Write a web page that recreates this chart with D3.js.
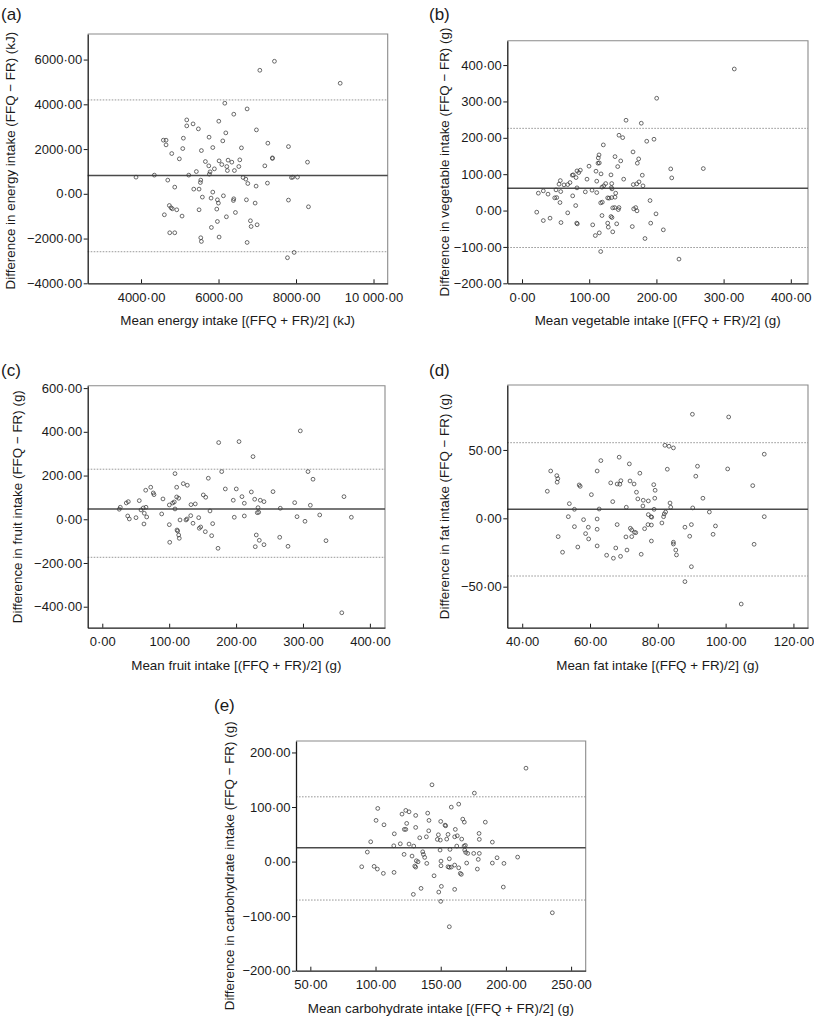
<!DOCTYPE html>
<html><head><meta charset="utf-8">
<script src="https://cdn.jsdelivr.net/npm/d3@7"></script>
<style>
body{margin:0;background:#fff}
text{font-family:"Liberation Sans",Arial,Helvetica,sans-serif;fill:#1a1a1a}
</style>
</head><body>
<svg id="chart" width="814" height="1019"></svg>
<script>
// ---------- DATA ----------
// (a) energy, kJ
const energyMean=[3871,4344,4690,4870,4576,4646,4646,4793,4989,5093,5077,5180,5180,5343,5480,5428,5232,5361,5498,5542,5532,5583,5558,5661,5749,5756,5852,5782,5764,5852,5808,5893,6007,6015,5971,5997,5955,5971,5816,5498,5059,4922,4808,4775,4731,4602,4741,4870,5542,5558,6015,7066,7443,9140,6162,6738,6394,6188,6110,6591,6978,7273,7805,8296,7391,7391,7195,6549,6524,6343,6247,6085,6214,6229,6410,6635,6704,6756,6970,7262,7882,7918,8037,6126,6394,6384,6720,6945,7805,8321,6436,6203,6823,6841,6996,6738,7779,7952];
const energyDiff=[745,835,612,299,2397,2397,2187,1799,1562,2486,2022,3303,3036,3125,2902,995,835,210,210,612,504,-147,1933,1442,1250,2531,2067,982,879,76,-192,1116,3245,1473,-268,-415,-683,-1237,-1504,-714,-995,-714,-670,-625,-522,-937,-1741,-1741,-1964,-2129,-1933,5522,5924,4942,4049,3794,3558,2723,2366,2053,2857,2263,2111,1415,1607,1580,1250,1518,1219,1415,1504,1308,1219,1040,1040,728,656,460,344,478,728,745,745,-89,-223,-299,-268,-415,-281,-580,-835,-1027,-1205,-1460,-1384,-2174,-2857,-2620];
const energyLines=[817,4196,-2589]; // bias, upper LoA, lower LoA
const energyXTicks=[4000,6000,8000,10000];
const energyXLabels=["4000·00","6000·00","8000·00","10 000·00"];
const energyYTicks=[-4000,-2000,0,2000,4000,6000];
const energyYLabels=["−4000·00","−2000·00","0·00","2000·00","4000·00","6000·00"];

// (b) vegetables, g
const vegMean=[21.9,24.3,31.7,38.7,31.7,41.7,48.7,51.6,50.6,55.1,57.0,57.6,56.5,58,62.5,68,71.4,74.8,76.3,80.4,81.8,84.4,86.8,81.8,75.4,79.9,68,81.4,82.3,96.7,99.7,94.2,104.2,111.2,110.1,113.5,113.1,115,114.6,117.6,121,111.2,105.2,109.1,115,117.1,119,119.5,119,121.6,124.5,127.5,128.4,132.4,133.9,133.5,132.9,133.9,135,137.9,117.1,127.5,129.5,133.5,135,132.4,315.9,200.4,154.8,177.5,144.3,149.8,185.6,196.4,165.2,138.4,146.9,173.6,171.6,142.4,221.3,269.8,222.8,179,151.3,165.6,170.7,174.1,180,139.4,138.4,190.5,144.3,143.3,166.2,169.2,171.1,199.4,140.9,164.1,191.5,210.3,183,233.6];
const vegDiff=[-4.4,47.8,54.1,45.1,-27.5,-20.9,34.9,35.7,56.9,72.5,82.4,52.2,22,-33,70.6,71.4,76.9,97.2,98.1,90.7,109,104.4,111,62.4,40.4,13.7,-6.3,-34.6,-36.5,86.3,122,51.4,56,80.8,108.2,144.8,130.2,131,153,100.8,180.5,49.4,-39.3,-68.7,-61.3,-112.6,-13.7,23.1,64.3,67.9,74.2,-34.6,-45.6,-16.5,-19.2,74.2,63.2,59.6,7.4,8.2,21.2,34.9,34.1,35.7,-58.5,98.1,389.2,308.8,248.3,240.1,207.1,200.5,190.6,196.1,161.2,148.3,136.5,142,130.2,120.9,114.5,115.4,89.8,97.2,86.3,71.4,73.3,78.8,67.9,47.8,36.8,27.5,8.2,2.7,4.7,8.2,-0.8,-9.1,-36.5,-44,-34.6,-53,-76.9,-133.5];
const vegLines=[61.5,226,-101.6];
const vegXTicks=[0,100,200,300,400];
const vegXLabels=["0·00","100·00","200·00","300·00","400·00"];
const vegYTicks=[-200,-100,0,100,200,300,400];
const vegYLabels=["−200·00","−100·00","0·00","100·00","200·00","300·00","400·00"];

// (c) fruit, g
const fruitMean=[25.4,26.9,35.9,38.9,38,40.4,50.4,55.3,57.9,61.3,62.8,65.3,66.4,62.3,64.9,72.4,76.2,77.3,90.7,88.8,100.2,100.2,100.8,105.2,107.6,108.7,111.2,111.2,114.2,111.7,112.7,114.2,115.1,116.2,108.7,121.1,127.1,132.6,132.2,126.6,125.1,135.6,139,144.1,145,147.1,151,154.6,154,158.5,161,165,163.5,173,174,204.4,296,225.3,178.5,183.9,200.3,195.8,208.8,212.3,222.8,227.8,236.2,241.7,232.8,233.8,255.2,266.1,287.6,307.5,315,311,361.3,197.3,212.3,231.7,291.1,303,325,372.3,230.2,234.7,228.7,241.7,265.2,277.6,334.4,358];
const fruitDiff=[45.8,55,74.6,80.6,15.1,1.4,7.3,85.2,42.6,51.7,27.5,55,10.5,-21.5,132.8,146.5,120.4,112.6,93,24.3,65.5,-24.7,-105.3,74.6,79.2,47.2,146.5,102.1,96.2,-49,-53.6,-71.9,-87,-3.2,208.8,163,155.7,66.9,16.5,1.4,-3.2,-18.3,70.1,7.3,-41.2,-35.3,111.3,100.7,-56.8,187.7,38,-20.1,-75.1,-132.8,350.8,355.3,404.3,286.6,218,138.7,138.7,87,103.5,73.3,125,91.6,87,80.6,53.1,32.1,126.4,50.4,76,218,183.2,64.1,103.5,9.2,15.1,30.2,11.9,-9.2,19.7,9.2,-71.9,-96.2,-125.5,-116.3,-82.4,-123.6,-98,-427.7];
const fruitLines=[47.2,229,-174];
const fruitXTicks=[0,100,200,300,400];
const fruitXLabels=["0·00","100·00","200·00","300·00","400·00"];
const fruitYTicks=[-400,-200,0,200,400,600];
const fruitYLabels=["−400·00","−200·00","0·00","200·00","400·00","600·00"];

// (d) fat, g
const fatMean=[90.2,100.9,82.1,83.3,84.6,111.4,68.6,71.6,82.8,91.7,100.6,74.7,91.2,69.1,68,68.8,71.8,73,78.8,79.2,73.7,74.1,75.7,77.2,79.1,93.3,108,70.7,75.6,78.9,83.6,83.8,82.3,81.9,81.7,81.2,90.3,95.2,111.4,77.2,78,78.2,77.1,78.1,68,76.1,71.9,72.3,73.1,73.5,70.6,72.3,97,96.3,88,89.9,89.4,78.1,84.6,84.6,85.3,85.5,70.9,69,75.1,108.4,89.9,88,104.6,47.4,48.4,50.2,50.5,50.3,50.6,51.9,53.9,53.6,55.4,55.4,56.4,56.8,57.1,58.1,58.7,59.5,59.6,60.4,62.1,62.1,62.1,62.1,62.7,63.2,64.9,66.1,66.7,66.9,67.6];
const fatDiff=[76.1,74.1,53.4,52.7,51.5,46.9,44.7,39.8,35.9,38.1,36.1,33,30.8,27.5,25.1,24.9,27.3,25.1,24.6,20.5,19.1,14.2,13.2,12.7,14.7,14.7,23.9,8.1,9,6.6,11.2,8.1,4.6,3.2,1.2,-3.4,7.6,4.6,1.2,2.7,1.2,0.8,-4.6,-4.9,-4.6,-7.6,-7.3,-8.5,-10.2,-10.5,-13.6,-13.4,-5.6,-11.7,-6.5,-4.6,-13.1,-16.6,-17.5,-18.8,-23.2,-26.8,-23.2,-27.8,-26.3,-19,-35.4,-46.3,-62.7,19.8,34.6,31.2,29,26.4,-13.4,-24.8,10.7,1.2,6.6,-6.1,-21,24.4,23.4,-1,-11.2,-6.5,-15.1,17.3,34.6,-0.5,-8,-20.2,6.8,42.2,-27,25.9,12.2,-29.2,-21.7];
const fatLines=[6.6,55.3,-42.2];
const fatXTicks=[40,60,80,100,120];
const fatXLabels=["40·00","60·00","80·00","100·00","120·00"];
const fatYTicks=[-50,0,50];
const fatYLabels=["−50·00","0·00","50·00"];

// (e) carbohydrate, g
const carbMean=[101.7,100.4,106.5,96.3,93.7,89.4,98.9,101.4,106,114.2,114.4,114,119,121.9,120.3,123.2,125.7,123.9,122.1,123.2,130.8,130.8,125.7,129.3,128,130.1,131.3,130.8,133.9,134.9,129,136.2,136.7,137.7,132.6,215.4,143.3,175.8,158.1,163.8,140,141,150,153.3,153.8,166.9,168.1,184.2,140.8,148.2,155.6,161.2,162.7,166.1,147.4,149.7,154.6,160.7,139,179.4,179.6,189.6,162.3,167.9,168.9,149.5,157.1,168.4,169.2,170.7,175.3,179.6,156.6,178.8,193.2,209,139.3,150.2,150.2,155.6,156.6,158.1,160.7,163.8,165,165.8,169.9,178.1,189.6,198.5,144.9,150.5,148.5,150,160.7,198,156.6,235.6];
const carbDiff=[97.4,75.5,67.4,36.3,17.4,-9.5,-8.8,-13.7,-21.6,-19.8,50.9,28.9,32.6,13.2,87,93.8,91.2,70,59,59,84.6,62.6,32.1,28.4,10.1,-8.2,1.5,-10.1,43.6,-49.1,-60.1,17.9,13.2,7.7,-0.4,171.2,140.7,125.5,99.8,105.3,88.8,75.5,73.6,66.8,65.6,77.8,72.3,72.3,56.4,49.1,49.8,59,47.3,41.2,40.7,39.4,41.2,45.4,45.4,51.6,40.7,35.7,28.4,28.4,29.7,21.1,22.3,21.1,16.8,15,15,15,5.1,4,7,8.2,-3.3,0.9,-7.7,-9.5,-10.6,-10.1,-6.4,-11.4,-21.6,-23.4,-2.7,-13.7,-2.7,-3.3,-26,-45.4,-55.9,-72.9,-50.9,-46.7,-119.4,-93.8];
const carbLines=[25.3,118.7,-70.5];
const carbXTicks=[50,100,150,200,250];
const carbXLabels=["50·00","100·00","150·00","200·00","250·00"];
const carbYTicks=[-200,-100,0,100,200];
const carbYLabels=["−200·00","−100·00","0·00","100·00","200·00"];

// ---------- LAYOUT ----------
const panels=[
 {label:"(a)",mean:energyMean,diff:energyDiff,lines:energyLines,xTicks:energyXTicks,xLabels:energyXLabels,yTicks:energyYTicks,yLabels:energyYLabels,
  xTitle:"Mean energy intake [(FFQ + FR)/2] (kJ)",yTitle:"Difference in energy intake (FFQ − FR) (kJ)",
  xDomain:[2624,10366],yDomain:[-4000,7143],box:{l:87.7,r:387.7,t:34,b:283.3},lab:[1,20],yTitleX:15,yTitleShift:2},
 {label:"(b)",mean:vegMean,diff:vegDiff,lines:vegLines,xTicks:vegXTicks,xLabels:vegXLabels,yTicks:vegYTicks,yLabels:vegYLabels,
  xTitle:"Mean vegetable intake [(FFQ + FR)/2] (g)",yTitle:"Difference in vegetable intake (FFQ − FR) (g)",
  xDomain:[-21.9,425.6],yDomain:[-200,467],box:{l:507.3,r:808,t:40.7,b:283.3},lab:[429,20],yTitleX:449,yTitleShift:0},
 {label:"(c)",mean:fruitMean,diff:fruitDiff,lines:fruitLines,xTicks:fruitXTicks,xLabels:fruitXLabels,yTicks:fruitYTicks,yLabels:fruitYLabels,
  xTitle:"Mean fruit intake [(FFQ + FR)/2] (g)",yTitle:"Difference in fruit intake (FFQ − FR) (g)",
  xDomain:[-21.8,422.6],yDomain:[-496,611],box:{l:87.7,r:385,t:385.7,b:627.7},lab:[1,376],yTitleX:22,yTitleShift:0},
 {label:"(d)",mean:fatMean,diff:fatDiff,lines:fatLines,xTicks:fatXTicks,xLabels:fatXLabels,yTicks:fatYTicks,yLabels:fatYLabels,
  xTitle:"Mean fat intake [(FFQ + FR)/2] (g)",yTitle:"Difference in fat intake (FFQ − FR) (g)",
  xDomain:[35.6,124.3],yDomain:[-80,97.5],box:{l:507.3,r:808,t:385,b:627.7},lab:[429,376],yTitleX:449,yTitleShift:0},
 {label:"(e)",mean:carbMean,diff:carbDiff,lines:carbLines,xTicks:carbXTicks,xLabels:carbXLabels,yTicks:carbYTicks,yLabels:carbYLabels,
  xTitle:"Mean carbohydrate intake [(FFQ + FR)/2] (g)",yTitle:"Difference in carbohydrate intake (FFQ − FR) (g)",
  xDomain:[39,261.2],yDomain:[-200,221],box:{l:296,r:585.7,t:741,b:970.7},lab:[214,711],yTitleX:234,yTitleShift:10}
];

const svg=d3.select("#chart");

function drawPanel(p){
  const B=p.box;
  const x=d3.scaleLinear().domain(p.xDomain).range([B.l,B.r]);
  const y=d3.scaleLinear().domain(p.yDomain).range([B.b,B.t]);
  const g=svg.append("g");

  // top & right frame
  g.append("path").attr("d",`M${B.l},${B.t}H${B.r}V${B.b}`)
    .attr("fill","none").attr("stroke","#8a8a8a").attr("stroke-width",1.1);

  // limits of agreement (dotted)
  [p.lines[1],p.lines[2]].forEach(v=>{
    g.append("line").attr("x1",B.l).attr("x2",B.r).attr("y1",y(v)).attr("y2",y(v))
      .attr("stroke","#8c8c8c").attr("stroke-width",0.9).attr("stroke-dasharray","1.6,1.4");
  });
  // mean difference (solid)
  g.append("line").attr("x1",B.l).attr("x2",B.r).attr("y1",y(p.lines[0])).attr("y2",y(p.lines[0]))
    .attr("stroke","#4a4a4a").attr("stroke-width",1.4);

  // points
  g.selectAll("circle.pt").data(d3.zip(p.mean,p.diff)).join("circle")
    .attr("class","pt").attr("cx",d=>x(d[0])).attr("cy",d=>y(d[1])).attr("r",1.9)
    .attr("fill","none").attr("stroke","#3a3a3a").attr("stroke-width",0.75);

  // axes
  const ya=d3.axisLeft(y).tickValues(p.yTicks).tickFormat((d,i)=>p.yLabels[i])
    .tickSizeInner(4).tickSizeOuter(0).tickPadding(1.5);
  const xa=d3.axisBottom(x).tickValues(p.xTicks).tickFormat((d,i)=>p.xLabels[i])
    .tickSizeInner(-4).tickSizeOuter(0).tickPadding(9);
  const yg=g.append("g").attr("transform",`translate(${B.l},0)`).call(ya);
  const xg=g.append("g").attr("transform",`translate(0,${B.b})`).call(xa);
  [yg,xg].forEach(a=>{
    a.attr("font-family",null).attr("font-size",null);
    a.selectAll("text").style("font-size","13px").attr("fill","#1a1a1a");
    a.select(".domain").attr("stroke","#1a1a1a").attr("stroke-width",1.3);
    a.selectAll(".tick line").attr("stroke","#1a1a1a").attr("stroke-width",1);
  });

  // titles
  g.append("text").attr("x",(B.l+B.r)/2).attr("y",B.b+42).attr("text-anchor","middle")
    .style("font-size","13.4px").text(p.xTitle);
  g.append("text").attr("transform",`translate(${p.yTitleX},${(B.t+B.b)/2+p.yTitleShift}) rotate(-90)`)
    .attr("text-anchor","middle").style("font-size","13.4px").text(p.yTitle);
  // panel label
  g.append("text").attr("x",p.lab[0]).attr("y",p.lab[1]).style("font-size","17px").text(p.label);
}
panels.forEach(drawPanel);
</script>
</body></html>
